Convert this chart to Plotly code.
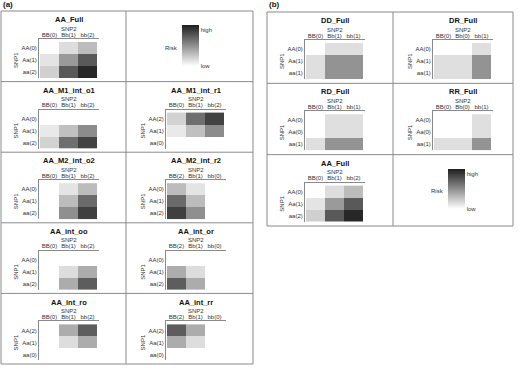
import plotly.graph_objects as go

W, H = 520, 370

# ---------------- data ----------------
snp1_add = ["AA(0)", "Aa(1)", "aa(2)"]
snp1_add_rev = ["AA(2)", "Aa(1)", "aa(0)"]
snp2_add = ["BB(0)", "Bb(1)", "bb(2)"]
snp2_add_rev = ["BB(2)", "Bb(1)", "bb(0)"]
snp1_dom = ["AA(0)", "Aa(1)", "aa(1)"]
snp1_rec = ["AA(0)", "Aa(0)", "aa(1)"]
snp2_dom = ["BB(0)", "Bb(1)", "bb(1)"]
snp2_rec = ["BB(0)", "Bb(0)", "bb(1)"]

risk_AA_Full = [[0.00, 0.15, 0.30], [0.12, 0.45, 0.74], [0.21, 0.74, 0.96]]
risk_AA_M1_int_o1 = [[0.00, 0.00, 0.00], [0.10, 0.28, 0.51], [0.20, 0.64, 0.84]]
risk_AA_M1_int_r1 = [[0.20, 0.64, 0.84], [0.10, 0.28, 0.51], [0.00, 0.00, 0.00]]
risk_AA_M2_int_o2 = [[0.00, 0.12, 0.30], [0.00, 0.30, 0.66], [0.00, 0.50, 0.85]]
risk_AA_M2_int_r2 = [[0.30, 0.12, 0.00], [0.66, 0.30, 0.00], [0.85, 0.50, 0.00]]
risk_AA_int_oo = [[0.00, 0.00, 0.00], [0.00, 0.15, 0.37], [0.00, 0.37, 0.72]]
risk_AA_int_or = [[0.00, 0.00, 0.00], [0.37, 0.15, 0.00], [0.72, 0.37, 0.00]]
risk_AA_int_ro = [[0.00, 0.37, 0.72], [0.00, 0.15, 0.37], [0.00, 0.00, 0.00]]
risk_AA_int_rr = [[0.72, 0.37, 0.00], [0.37, 0.15, 0.00], [0.00, 0.00, 0.00]]
risk_DD_Full = [[0.00, 0.14, 0.14], [0.14, 0.48, 0.48], [0.14, 0.48, 0.48]]
risk_DR_Full = [[0.00, 0.00, 0.14], [0.14, 0.14, 0.48], [0.14, 0.14, 0.48]]
risk_RD_Full = [[0.00, 0.14, 0.14], [0.00, 0.14, 0.14], [0.14, 0.48, 0.48]]
risk_RR_Full = [[0.00, 0.00, 0.14], [0.00, 0.00, 0.14], [0.14, 0.14, 0.48]]

# ---------------- layout geometry (pixels) ----------------
FONT = "Liberation Sans, Arial, sans-serif"
LINE = "#8a8a8a"
TXT = "#333333"

A_left, A_mid, A_right, A_top, A_bot = 1, 126, 253, 11, 364
B_left, B_mid, B_right, B_top, B_bot = 267, 393, 513, 12, 226
A_rows = [A_top + (A_bot - A_top) * k / 5 for k in range(6)]
B_rows = [B_top + (B_bot - B_top) * k / 3 for k in range(4)]
A_heat_x = [40, 167]
B_heat_x = [306, 434]

panels = [
    # name, z, row labels, col labels, heat_left, row_top, coloraxis
    ("AA_Full", risk_AA_Full, snp1_add, snp2_add, A_heat_x[0], A_rows[0], "coloraxis"),
    ("AA_M1_int_o1", risk_AA_M1_int_o1, snp1_add, snp2_add, A_heat_x[0], A_rows[1], "coloraxis"),
    ("AA_M1_int_r1", risk_AA_M1_int_r1, snp1_add_rev, snp2_add, A_heat_x[1], A_rows[1], "coloraxis"),
    ("AA_M2_int_o2", risk_AA_M2_int_o2, snp1_add, snp2_add, A_heat_x[0], A_rows[2], "coloraxis"),
    ("AA_M2_int_r2", risk_AA_M2_int_r2, snp1_add, snp2_add_rev, A_heat_x[1], A_rows[2], "coloraxis"),
    ("AA_int_oo", risk_AA_int_oo, snp1_add, snp2_add, A_heat_x[0], A_rows[3], "coloraxis"),
    ("AA_int_or", risk_AA_int_or, snp1_add, snp2_add_rev, A_heat_x[1], A_rows[3], "coloraxis"),
    ("AA_int_ro", risk_AA_int_ro, snp1_add_rev, snp2_add, A_heat_x[0], A_rows[4], "coloraxis"),
    ("AA_int_rr", risk_AA_int_rr, snp1_add_rev, snp2_add_rev, A_heat_x[1], A_rows[4], "coloraxis"),
    ("DD_Full", risk_DD_Full, snp1_dom, snp2_dom, B_heat_x[0], B_rows[0], "coloraxis2"),
    ("DR_Full", risk_DR_Full, snp1_dom, snp2_rec, B_heat_x[1], B_rows[0], "coloraxis2"),
    ("RD_Full", risk_RD_Full, snp1_rec, snp2_dom, B_heat_x[0], B_rows[1], "coloraxis2"),
    ("RR_Full", risk_RR_Full, snp1_rec, snp2_rec, B_heat_x[1], B_rows[1], "coloraxis2"),
    ("AA_Full", risk_AA_Full, snp1_add, snp2_add, B_heat_x[0], B_rows[2], "coloraxis2"),
]

CW, CH = 19, 12      # cell size px
HW, HH = 3 * CW, 3 * CH


def px(x):
    return x / W


def py(y):
    return 1 - y / H


fig = go.Figure()
annotations = []
layout = {}

for i, (name, z, rows, cols, hl, rt, cax) in enumerate(panels, start=1):
    sfx = "" if i == 1 else str(i)
    ht = rt + 31
    fig.add_trace(go.Heatmap(
        z=z, x=[0, 1, 2], y=[0, 1, 2], coloraxis=cax,
        xaxis="x" + sfx, yaxis="y" + sfx, hoverinfo="skip",
    ))
    layout["xaxis" + sfx] = dict(
        domain=[px(hl - 1), px(hl + HW + 2)],
        range=[-0.5 - 1 / CW, 2.5 + 2 / CW],
        anchor="y" + sfx, side="top", showline=True, linecolor=LINE, linewidth=1,
        ticks="", tickvals=[0, 1, 2], ticktext=cols, showgrid=False, zeroline=False,
        ticklabelstandoff=-1,
        tickfont=dict(size=6, color=TXT, family=FONT), fixedrange=True,
    )
    layout["yaxis" + sfx] = dict(
        domain=[py(ht + HH), py(ht - 3)],
        range=[2.5, -0.5 - 3 / CH],
        anchor="x" + sfx, showline=True, linecolor=LINE, linewidth=1,
        ticks="", tickvals=[0, 1, 2], ticktext=rows, showgrid=False, zeroline=False,
        tickfont=dict(size=6, color=TXT, family=FONT), fixedrange=True,
    )
    cxh = hl + HW / 2
    annotations.append(dict(text="<b>" + name + "</b>", x=px(cxh), y=py(rt + 8.6),
                            xref="paper", yref="paper", showarrow=False,
                            xanchor="center", yanchor="middle",
                            font=dict(size=7.5, color="#111111", family=FONT)))
    annotations.append(dict(text="SNP2", x=px(cxh), y=py(rt + 17.6),
                            xref="paper", yref="paper", showarrow=False,
                            xanchor="center", yanchor="middle",
                            font=dict(size=6, color=TXT, family=FONT)))
    annotations.append(dict(text="SNP1", x=px(hl - 24), y=py(ht + HH / 2),
                            xref="paper", yref="paper", showarrow=False, textangle=-90,
                            xanchor="center", yanchor="middle",
                            font=dict(size=6, color=TXT, family=FONT)))

scale = [[0, "#ffffff"], [1, "#1e1e1e"]]


def cbar(x, top, length, hi):
    return dict(
        x=px(x), xanchor="left", y=py(top), yanchor="top",
        len=length, lenmode="pixels", thickness=17, thicknessmode="pixels",
        xpad=0, ypad=0, outlinewidth=0, ticks="",
        tickvals=[hi, 0.0], ticktext=["high", "low"],
        tickfont=dict(size=6, color=TXT, family=FONT),
    )


layout["coloraxis"] = dict(colorscale=scale, cmin=0, cmax=1, showscale=True,
                           colorbar=cbar(182, 25, 41, 0.88))
layout["coloraxis2"] = dict(colorscale=scale, cmin=0, cmax=1, showscale=True,
                            colorbar=cbar(448, 169, 40, 0.875))

for x, y in [(180, 48), (446, 191)]:
    annotations.append(dict(text="Risk", x=px(x), y=py(y), xref="paper", yref="paper",
                            showarrow=False, xanchor="right", yanchor="middle",
                            font=dict(size=6, color=TXT, family=FONT)))

for lab, x in [("(a)", 1), ("(b)", 267)]:
    annotations.append(dict(text="<b>" + lab + "</b>", x=px(x), y=py(5), xref="paper",
                            yref="paper", showarrow=False, xanchor="left", yanchor="middle",
                            font=dict(size=8, color="#111111", family=FONT)))

shapes = []


def seg(x0, y0, x1, y1):
    shapes.append(dict(type="line", xref="paper", yref="paper",
                       x0=px(x0), y0=py(y0), x1=px(x1), y1=py(y1),
                       line=dict(color=LINE, width=1)))


def box(l, t, r, b):
    shapes.append(dict(type="rect", xref="paper", yref="paper",
                       x0=px(l), y0=py(b), x1=px(r), y1=py(t),
                       line=dict(color=LINE, width=1)))


box(A_left, A_top, A_right, A_bot)
seg(A_mid, A_top, A_mid, A_bot)
for y in A_rows[1:-1]:
    seg(A_left, y, A_right, y)
box(B_left, B_top, B_right, B_bot)
seg(B_mid, B_top, B_mid, B_bot)
for y in B_rows[1:-1]:
    seg(B_left, y, B_right, y)

fig.update_layout(
    width=W, height=H, autosize=False,
    margin=dict(l=0, r=0, t=0, b=0, pad=0),
    paper_bgcolor="white", plot_bgcolor="white",
    font=dict(family=FONT, size=6, color=TXT),
    showlegend=False, annotations=annotations, shapes=shapes,
    **layout,
)

fig.write_html(
    "out.html",
    config={"displayModeBar": False, "staticPlot": True},
    post_script="document.body.style.margin='0';document.body.style.overflow='hidden';",
)
